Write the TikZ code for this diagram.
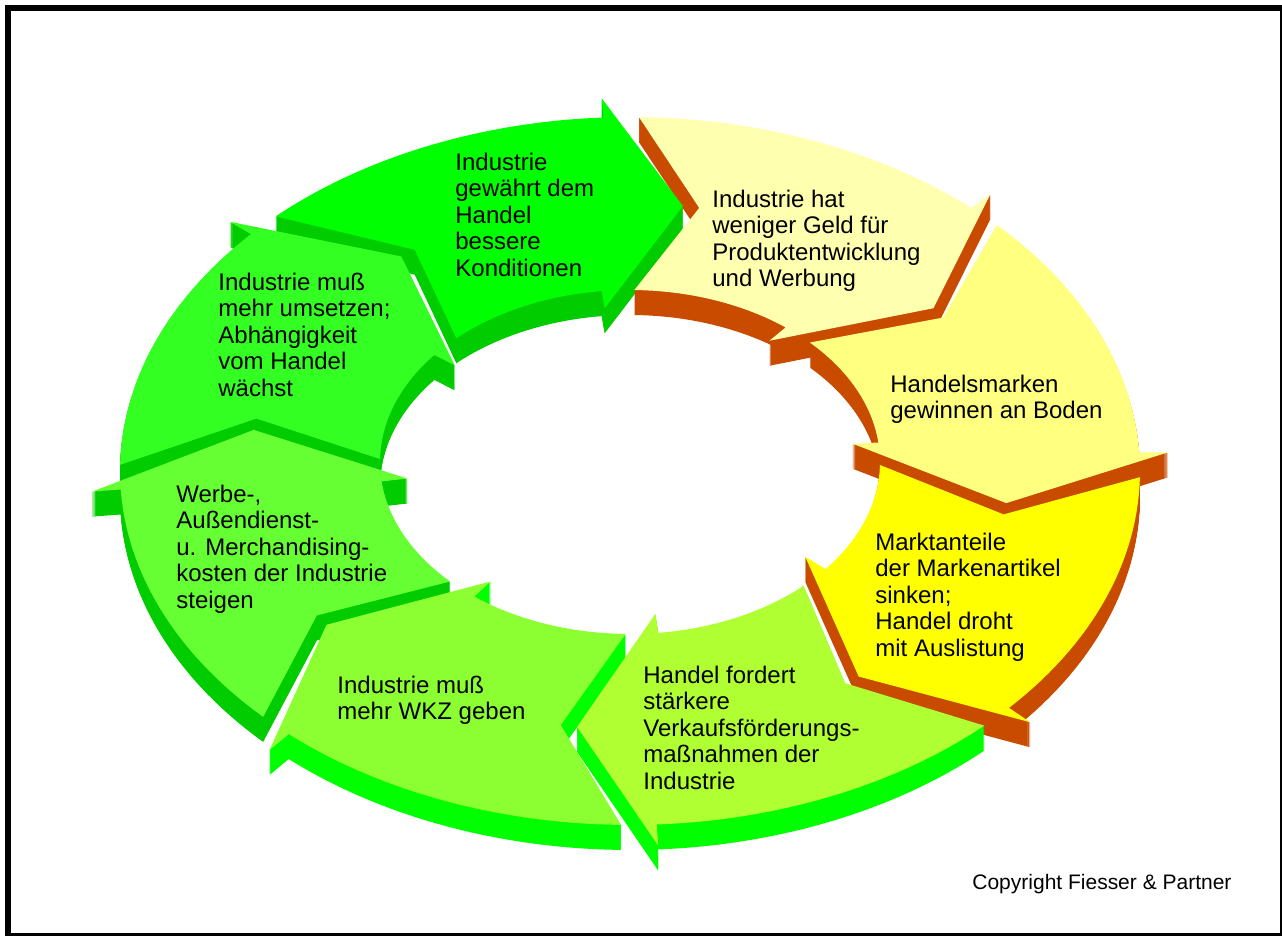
\documentclass[tikz,border=0pt]{standalone}
\usepackage{fontspec}
\setmainfont{Liberation Sans}
\usepackage{tikz}

\definecolor{faceA}{HTML}{00FF00}
\definecolor{faceB}{HTML}{FFFFB0}
\definecolor{faceC}{HTML}{FFFF80}
\definecolor{faceD}{HTML}{FFFF00}
\definecolor{faceE}{HTML}{AFFF33}
\definecolor{faceF}{HTML}{8CFF33}
\definecolor{faceG}{HTML}{66FF33}
\definecolor{faceH}{HTML}{33FF22}
\definecolor{sidegreen}{HTML}{00CC00}
\definecolor{sidelight}{HTML}{00FF00}
\definecolor{sideorange}{HTML}{C84B00}

% point of the ring: #1 = angle, #2 = 0 (inner edge) .. 1 (outer edge)
\newcommand{\rpt}[2]{({630+(250+260*(#2))*cos(#1)},{462+9*(#2)-(172+182*(#2))*sin(#1)})}
% one arrow segment, #1 = angle of its tail
\newcommand{\segpath}[1]{\rpt{#1}{1}
  -- plot[domain=#1:#1-41,samples=30] ({630+510*cos(\x)},{471-354*sin(\x)})
  -- \rpt{#1-41}{1.11} -- \rpt{#1-52}{0.5} -- \rpt{#1-37.5}{-0.1}
  -- plot[domain=#1-37.5:#1,samples=30] ({630+250*cos(\x)},{462-172*sin(\x)})
  -- \rpt{#1-9.5}{0.5} -- cycle}
\newcommand{\labelfont}{\fontsize{12pt}{13.2pt}\selectfont}

\begin{document}
\begin{tikzpicture}[x=0.5pt,y=-0.5pt,
  seglabel/.style={anchor=north west,inner sep=0pt,align=left,font=\labelfont}]
  \useasboundingbox (0,0) rectangle (1282,936);
  \fill[white] (0,0) rectangle (1282,936);

  % sides (extrusion, 25px deep)
  \foreach \ang/\side in {134/sidegreen,179/sidegreen,89/sideorange,44/sideorange,
      224/sidegreen,-1/sideorange,-46/sidelight,269/sidelight}{
    \foreach \d in {1,...,25}{
      \path[fill=\side,shift={(0,\d)}] \segpath{\ang};
    }
  }
  % top faces
  \foreach \ang/\face in {134/faceA,89/faceB,44/faceC,-1/faceD,
      -46/faceE,269/faceF,224/faceG,179/faceH}{
    \path[fill=\face] \segpath{\ang};
  }

  \node[seglabel] (konditionen) at (455,152.7) {Industrie\\gewährt dem\\Handel\\bessere\\Konditionen};
  \node[seglabel] (geld) at (712,189.7) {Industrie hat\\weniger Geld für\\Produktentwicklung\\und Werbung};
  \node[seglabel] (boden) at (890,374.7) {Handelsmarken\\gewinnen an Boden};
  \node[seglabel] (auslistung) at (875,532.7) {Marktanteile\\der Markenartikel\\sinken;\\Handel droht\\mit Auslistung};
  \node[seglabel] (vkf) at (643,665.7) {Handel fordert\\stärkere\\Verkaufsförderungs-\\maßnahmen der\\Industrie};
  \node[seglabel] (wkz) at (337,675.7) {Industrie muß\\mehr WKZ geben};
  \node[seglabel] (kosten) at (176,484.7) {Werbe-,\\Außendienst-\\u. Merchandising-\\kosten der Industrie\\steigen};
  \node[seglabel] (umsatz) at (218,272.7) {Industrie muß\\mehr umsetzen;\\Abhängigkeit\\vom Handel\\wächst};

  \node[anchor=north west,inner sep=0pt,font=\fontsize{10.5pt}{12pt}\selectfont]
    (copyright) at (972,874) {Copyright Fiesser \& Partner};

  \draw[line width=3pt] (8,8) rectangle (1283,936);
\end{tikzpicture}
\end{document}
